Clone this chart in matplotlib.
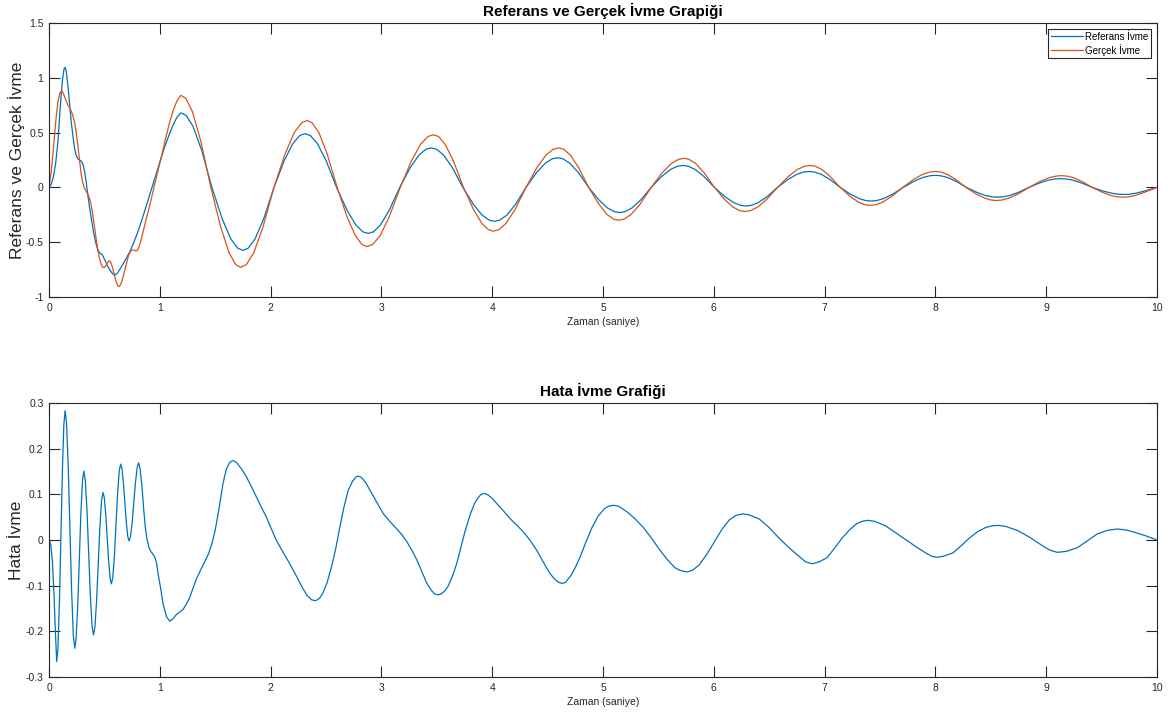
import matplotlib.pyplot as plt

plt.rcParams['font.family'] = ['Liberation Sans', 'DejaVu Sans']

# Referans ivme (mavi)
ref_t = [0, 0.02, 0.04, 0.06, 0.08, 0.10, 0.12, 0.135, 0.145, 0.155, 0.17, 0.185,
         0.20, 0.215, 0.23, 0.245, 0.26, 0.275, 0.29, 0.305, 0.32, 0.335, 0.35, 0.365,
         0.38, 0.40, 0.42, 0.44, 0.46, 0.48, 0.50, 0.525, 0.55, 0.575, 0.595, 0.615,
         0.64, 0.67, 0.70, 0.73, 0.76, 0.80, 0.84, 0.88, 0.92, 0.96, 1.0, 1.04,
         1.08, 1.12, 1.155,
         1.19, 1.237, 1.299, 1.377, 1.47, 1.563, 1.641, 1.703, 1.75,
         1.797, 1.859, 1.937, 2.03, 2.123, 2.201, 2.263, 2.31,
         2.358, 2.421, 2.50, 2.595, 2.69, 2.769, 2.833, 2.88,
         2.928, 2.991, 3.07, 3.165, 3.26, 3.339, 3.403, 3.45,
         3.498, 3.561, 3.64, 3.735, 3.83, 3.909, 3.973, 4.02,
         4.068, 4.131, 4.21, 4.305, 4.40, 4.479, 4.543, 4.59,
         4.637, 4.699, 4.777, 4.87, 4.963, 5.041, 5.103, 5.15,
         5.198, 5.261, 5.34, 5.435, 5.53, 5.609, 5.673, 5.72,
         5.768, 5.831, 5.91, 6.005, 6.10, 6.179, 6.243, 6.29,
         6.338, 6.401, 6.48, 6.575, 6.67, 6.749, 6.813, 6.86,
         6.907, 6.969, 7.047, 7.14, 7.233, 7.311, 7.373, 7.42,
         7.468, 7.533, 7.613, 7.71, 7.807, 7.887, 7.952, 8.0,
         8.047, 8.109, 8.187, 8.28, 8.373, 8.451, 8.513, 8.56,
         8.608, 8.671, 8.75, 8.845, 8.94, 9.019, 9.083, 9.13,
         9.178, 9.241, 9.32, 9.415, 9.51, 9.589, 9.653, 9.70,
         9.748, 9.811, 9.89, 10.0]
ref_v = [0, 0.03, 0.10, 0.22, 0.42, 0.72, 0.97, 1.08, 1.095, 1.06, 0.93, 0.76,
         0.60, 0.47, 0.36, 0.29, 0.26, 0.25, 0.24, 0.215, 0.15, 0.05, -0.07, -0.18,
         -0.275, -0.40, -0.50, -0.57, -0.60, -0.615, -0.655, -0.71, -0.755, -0.79, -0.80, -0.785,
         -0.745, -0.695, -0.642, -0.585, -0.515, -0.41, -0.29, -0.16, -0.03, 0.10, 0.23, 0.36,
         0.47, 0.57, 0.64,
         0.68, 0.657, 0.557, 0.34, 0.0, -0.288, -0.471, -0.555, -0.575,
         -0.555, -0.471, -0.288, 0.0, 0.245, 0.401, 0.473, 0.49,
         0.473, 0.401, 0.245, 0.0, -0.21, -0.344, -0.406, -0.42,
         -0.406, -0.344, -0.21, 0.0, 0.18, 0.295, 0.348, 0.36,
         0.348, 0.295, 0.18, 0.0, -0.155, -0.254, -0.299, -0.31,
         -0.299, -0.254, -0.155, 0.0, 0.135, 0.221, 0.261, 0.27,
         0.261, 0.221, 0.135, 0.0, -0.115, -0.188, -0.222, -0.23,
         -0.222, -0.188, -0.115, 0.0, 0.10, 0.164, 0.193, 0.20,
         0.193, 0.164, 0.10, 0.0, -0.085, -0.139, -0.164, -0.17,
         -0.164, -0.139, -0.085, 0.0, 0.0725, 0.119, 0.14, 0.145,
         0.14, 0.119, 0.0725, 0.0, -0.0625, -0.102, -0.121, -0.125,
         -0.121, -0.102, -0.0625, 0.0, 0.055, 0.09, 0.106, 0.11,
         0.106, 0.09, 0.055, 0.0, -0.045, -0.074, -0.087, -0.09,
         -0.087, -0.074, -0.045, 0.0, 0.04, 0.066, 0.077, 0.08,
         0.077, 0.066, 0.04, 0.0, -0.0325, -0.053, -0.063, -0.065,
         -0.063, -0.053, -0.0325, 0.0]

# Gerçek ivme (turuncu)
ger_t = [0, 0.02, 0.04, 0.06, 0.08, 0.10, 0.115, 0.13, 0.15, 0.17, 0.19, 0.21,
         0.23, 0.245, 0.26, 0.275, 0.29, 0.305, 0.32, 0.335, 0.35, 0.365, 0.38, 0.395,
         0.41, 0.425, 0.44, 0.455, 0.47, 0.485, 0.50, 0.515, 0.53, 0.545, 0.56, 0.575,
         0.59, 0.605, 0.62, 0.632, 0.645, 0.66, 0.675, 0.69, 0.705, 0.72, 0.735, 0.75,
         0.765, 0.78, 0.795, 0.81, 0.83, 0.85, 0.87, 0.89, 0.91, 0.94, 0.97, 1.0,
         1.03, 1.06, 1.09, 1.12, 1.155,
         1.19, 1.235, 1.295, 1.37, 1.46, 1.55, 1.625, 1.685, 1.73,
         1.78, 1.847, 1.93, 2.03, 2.13, 2.213, 2.28, 2.33,
         2.375, 2.435, 2.51, 2.60, 2.69, 2.765, 2.825, 2.87,
         2.92, 2.987, 3.07, 3.17, 3.27, 3.353, 3.42, 3.47,
         3.515, 3.575, 3.65, 3.74, 3.83, 3.905, 3.965, 4.01,
         4.059, 4.125, 4.207, 4.305, 4.403, 4.485, 4.551, 4.60,
         4.645, 4.705, 4.78, 4.87, 4.96, 5.035, 5.095, 5.14,
         5.189, 5.255, 5.337, 5.435, 5.533, 5.615, 5.681, 5.73,
         5.776, 5.837, 5.913, 6.005, 6.097, 6.173, 6.234, 6.28,
         6.329, 6.395, 6.477, 6.575, 6.673, 6.755, 6.821, 6.87,
         6.915, 6.975, 7.05, 7.14, 7.23, 7.305, 7.365, 7.41,
         7.459, 7.525, 7.607, 7.705, 7.803, 7.885, 7.951, 8.0,
         8.046, 8.107, 8.183, 8.275, 8.367, 8.443, 8.504, 8.55,
         8.599, 8.665, 8.747, 8.845, 8.943, 9.025, 9.091, 9.14,
         9.186, 9.247, 9.323, 9.415, 9.507, 9.583, 9.644, 9.69,
         9.739, 9.805, 9.887, 10.0]
ger_v = [0, 0.15, 0.36, 0.60, 0.78, 0.865, 0.88, 0.855, 0.80, 0.75, 0.72, 0.67,
         0.596, 0.50, 0.38, 0.25, 0.12, 0.04, -0.01, -0.035, -0.06, -0.10, -0.16, -0.25,
         -0.36, -0.47, -0.57, -0.645, -0.70, -0.73, -0.732, -0.71, -0.68, -0.67, -0.69, -0.74,
         -0.80, -0.86, -0.895, -0.905, -0.89, -0.85, -0.79, -0.73, -0.67, -0.615, -0.585, -0.572,
         -0.572, -0.58, -0.578, -0.55, -0.48, -0.40, -0.32, -0.24, -0.16, -0.03, 0.10, 0.22,
         0.35, 0.48, 0.60, 0.70, 0.79,
         0.84, 0.811, 0.688, 0.42, 0.0, -0.365, -0.598, -0.705, -0.73,
         -0.705, -0.598, -0.365, 0.0, 0.305, 0.50, 0.589, 0.61,
         0.589, 0.50, 0.305, 0.0, -0.27, -0.442, -0.522, -0.54,
         -0.522, -0.442, -0.27, 0.0, 0.24, 0.393, 0.464, 0.48,
         0.464, 0.393, 0.24, 0.0, -0.20, -0.328, -0.386, -0.40,
         -0.386, -0.328, -0.20, 0.0, 0.18, 0.295, 0.348, 0.36,
         0.348, 0.295, 0.18, 0.0, -0.15, -0.246, -0.29, -0.30,
         -0.29, -0.246, -0.15, 0.0, 0.1325, 0.217, 0.256, 0.265,
         0.256, 0.217, 0.1325, 0.0, -0.11, -0.18, -0.213, -0.22,
         -0.213, -0.18, -0.11, 0.0, 0.10, 0.164, 0.193, 0.20,
         0.193, 0.164, 0.10, 0.0, -0.0825, -0.135, -0.159, -0.165,
         -0.159, -0.135, -0.0825, 0.0, 0.0725, 0.119, 0.14, 0.145,
         0.14, 0.119, 0.0725, 0.0, -0.06, -0.098, -0.116, -0.12,
         -0.116, -0.098, -0.06, 0.0, 0.0535, 0.088, 0.103, 0.107,
         0.103, 0.088, 0.0535, 0.0, -0.045, -0.074, -0.087, -0.09,
         -0.087, -0.074, -0.045, 0.0]

# Hata ivme
err_t = [0, 0.015, 0.03, 0.045, 0.057, 0.069,
         0.0804, 0.0941, 0.107, 0.1199, 0.1336, 0.145,
         0.158, 0.1737, 0.1885, 0.2033, 0.219, 0.232,
         0.2443, 0.2591, 0.273, 0.2869, 0.3017, 0.314,
         0.327, 0.3427, 0.3575, 0.3723, 0.388, 0.401,
         0.4139, 0.4294, 0.444, 0.4586, 0.4741, 0.487,
         0.4984, 0.5121, 0.525, 0.5379, 0.5516, 0.563,
         0.5755, 0.5904, 0.6045, 0.6186, 0.6336, 0.646,
         0.6574, 0.6711, 0.684, 0.6969, 0.7106, 0.722,
         0.735, 0.7507, 0.7655, 0.7803, 0.796, 0.809,
         0.822, 0.839, 0.855, 0.87, 0.885, 0.90, 0.918, 0.94, 0.955, 0.97, 0.985,
         1.01, 1.03, 1.06, 1.09, 1.12, 1.15, 1.18, 1.21, 1.24, 1.27, 1.30, 1.33,
         1.38, 1.44, 1.47, 1.50, 1.535, 1.57, 1.60, 1.63, 1.66, 1.69, 1.73, 1.78,
         1.83, 1.87, 1.92, 1.96, 2.0, 2.05, 2.11, 2.17, 2.23, 2.29, 2.33, 2.37,
         2.405, 2.44, 2.47, 2.51, 2.55, 2.59, 2.625, 2.66, 2.70, 2.74, 2.77, 2.79,
         2.82, 2.86, 2.896, 2.96, 3.016, 3.07, 3.12, 3.18, 3.23, 3.28, 3.32, 3.37,
         3.41, 3.45, 3.48, 3.51, 3.54, 3.57, 3.60, 3.64, 3.68, 3.715, 3.75, 3.80,
         3.84, 3.87, 3.90, 3.93, 3.96, 4.0, 4.04, 4.10, 4.16, 4.22, 4.28, 4.34,
         4.40, 4.46, 4.52, 4.56, 4.60, 4.63, 4.66, 4.71, 4.75, 4.79, 4.845, 4.90,
         4.955, 5.01, 5.05, 5.095, 5.14, 5.22, 5.29, 5.365, 5.44, 5.51, 5.58, 5.65,
         5.70, 5.76, 5.81, 5.87, 5.94, 6.01, 6.075, 6.14, 6.20, 6.26, 6.32, 6.41,
         6.50, 6.585, 6.675, 6.765, 6.83, 6.89, 6.95, 7.02, 7.09, 7.16, 7.225, 7.285,
         7.34, 7.39, 7.45, 7.55, 7.64, 7.73, 7.82, 7.91, 7.97, 8.02, 8.08, 8.16,
         8.235, 8.31, 8.38, 8.45, 8.51, 8.56, 8.63, 8.74, 8.85, 8.95, 9.03, 9.10,
         9.18, 9.28, 9.37, 9.46, 9.55, 9.64, 9.72, 9.81, 9.90, 10.0]
err_v = [0, -0.01, -0.045, -0.12, -0.20, -0.266,
         -0.236, -0.131, 0.0085, 0.148, 0.253, 0.283,
         0.255, 0.155, 0.023, -0.109, -0.209, -0.237,
         -0.216, -0.142, -0.043, 0.056, 0.130, 0.151,
         0.131, 0.063, -0.0285, -0.12, -0.188, -0.208,
         -0.191, -0.131, -0.052, 0.027, 0.087, 0.104,
         0.093, 0.055, 0.004, -0.047, -0.085, -0.096,
         -0.082, -0.032, 0.035, 0.102, 0.152, 0.166,
         0.157, 0.125, 0.082, 0.039, 0.007, -0.002,
         0.007, 0.04, 0.0835, 0.127, 0.16, 0.169,
         0.155, 0.116, 0.065, 0.025, 0.0, -0.015, -0.025, -0.032, -0.038, -0.05, -0.075,
         -0.11, -0.141, -0.168, -0.178, -0.172, -0.163, -0.158, -0.152, -0.14, -0.126, -0.105, -0.085,
         -0.06, -0.03, -0.008, 0.022, 0.07, 0.124, 0.155, 0.170, 0.174, 0.170, 0.158, 0.139,
         0.115, 0.095, 0.07, 0.051, 0.028, 0.0, -0.026, -0.051, -0.078, -0.106, -0.122, -0.131,
         -0.133, -0.128, -0.117, -0.093, -0.058, -0.016, 0.029, 0.07, 0.109, 0.129, 0.138, 0.140,
         0.137, 0.125, 0.109, 0.082, 0.058, 0.042, 0.029, 0.013, -0.004, -0.025, -0.044, -0.072,
         -0.095, -0.11, -0.118, -0.120, -0.118, -0.112, -0.102, -0.08, -0.051, -0.018, 0.015, 0.055,
         0.080, 0.092, 0.100, 0.102, 0.099, 0.091, 0.080, 0.064, 0.047, 0.033, 0.018, 0.0,
         -0.022, -0.048, -0.073, -0.085, -0.093, -0.095, -0.093, -0.078, -0.06, -0.039, -0.005, 0.027,
         0.052, 0.068, 0.074, 0.076, 0.074, 0.061, 0.046, 0.027, 0.003, -0.021, -0.043, -0.061,
         -0.067, -0.070, -0.066, -0.054, -0.03, -0.002, 0.024, 0.044, 0.054, 0.057, 0.055, 0.046,
         0.027, 0.005, -0.016, -0.035, -0.048, -0.052, -0.048, -0.039, -0.018, 0.005, 0.022, 0.035,
         0.041, 0.043, 0.041, 0.031, 0.016, 0.001, -0.014, -0.028, -0.036, -0.038, -0.035, -0.028,
         -0.012, 0.005, 0.018, 0.027, 0.031, 0.032, 0.030, 0.021, 0.006, -0.010, -0.022, -0.027,
         -0.025, -0.017, -0.002, 0.013, 0.021, 0.024, 0.022, 0.016, 0.009, 0.0]

x_ticks = list(range(0, 11))
top_yticks = [-1, -0.5, 0, 0.5, 1, 1.5]
bot_yticks = [-0.3, -0.2, -0.1, 0, 0.1, 0.2, 0.3]

mavi = '#0072BD'
turuncu = '#D95319'
eksen = '#262626'

fig = plt.figure(figsize=(11.68, 7.13), dpi=100)
ax1 = fig.add_axes([0.042, 0.5835, 0.9486, 0.3843])
ax2 = fig.add_axes([0.042, 0.0505, 0.9486, 0.3843])


def matlab_style(ax):
    for s in ax.spines.values():
        s.set_color(eksen)
        s.set_linewidth(0.8)
    ax.tick_params(direction='in', length=8, width=0.8, colors=eksen,
                   labelsize=7.5, top=True, right=True, pad=4)
    ax.set_xlim(0, 10)
    ax.set_xticks(x_ticks)


# Üst grafik
ax1.plot(ref_t, ref_v, color=mavi, lw=0.9, label='Referans İvme')
ax1.plot(ger_t, ger_v, color=turuncu, lw=0.9, label='Gerçek İvme')
matlab_style(ax1)
ax1.set_ylim(-1, 1.5)
ax1.set_yticks(top_yticks)
ax1.set_yticklabels(['-1', '-0.5', '0', '0.5', '1', '1.5'])
ax1.set_title('Referans ve Gerçek İvme Grapiği', fontsize=11, fontweight='bold', pad=5)
ax1.set_xlabel('Zaman (saniye)', fontsize=7.5, color=eksen, labelpad=3)
ax1.set_ylabel('Referans ve Gerçek İvme', fontsize=12.5, color=eksen, va='center')
ax1.yaxis.set_label_coords(-0.0295, 0.5)
leg = ax1.legend(loc='upper right', fontsize=7, fancybox=False, framealpha=1,
                 edgecolor=eksen, handlelength=3.3, borderaxespad=0.6,
                 borderpad=0.3, labelspacing=0.2, handletextpad=0.2)
leg.get_frame().set_linewidth(0.8)

# Alt grafik
ax2.plot(err_t, err_v, color=mavi, lw=0.9)
matlab_style(ax2)
ax2.set_ylim(-0.3, 0.3)
ax2.set_yticks(bot_yticks)
ax2.set_yticklabels(['-0.3', '-0.2', '-0.1', '0', '0.1', '0.2', '0.3'])
ax2.set_title('Hata İvme Grafiği', fontsize=11, fontweight='bold', pad=5)
ax2.set_xlabel('Zaman (saniye)', fontsize=7.5, color=eksen, labelpad=3)
ax2.set_ylabel('Hata İvme', fontsize=12.5, color=eksen, va='center')
ax2.yaxis.set_label_coords(-0.0295, 0.5)

fig.savefig('out.png', dpi=100)
